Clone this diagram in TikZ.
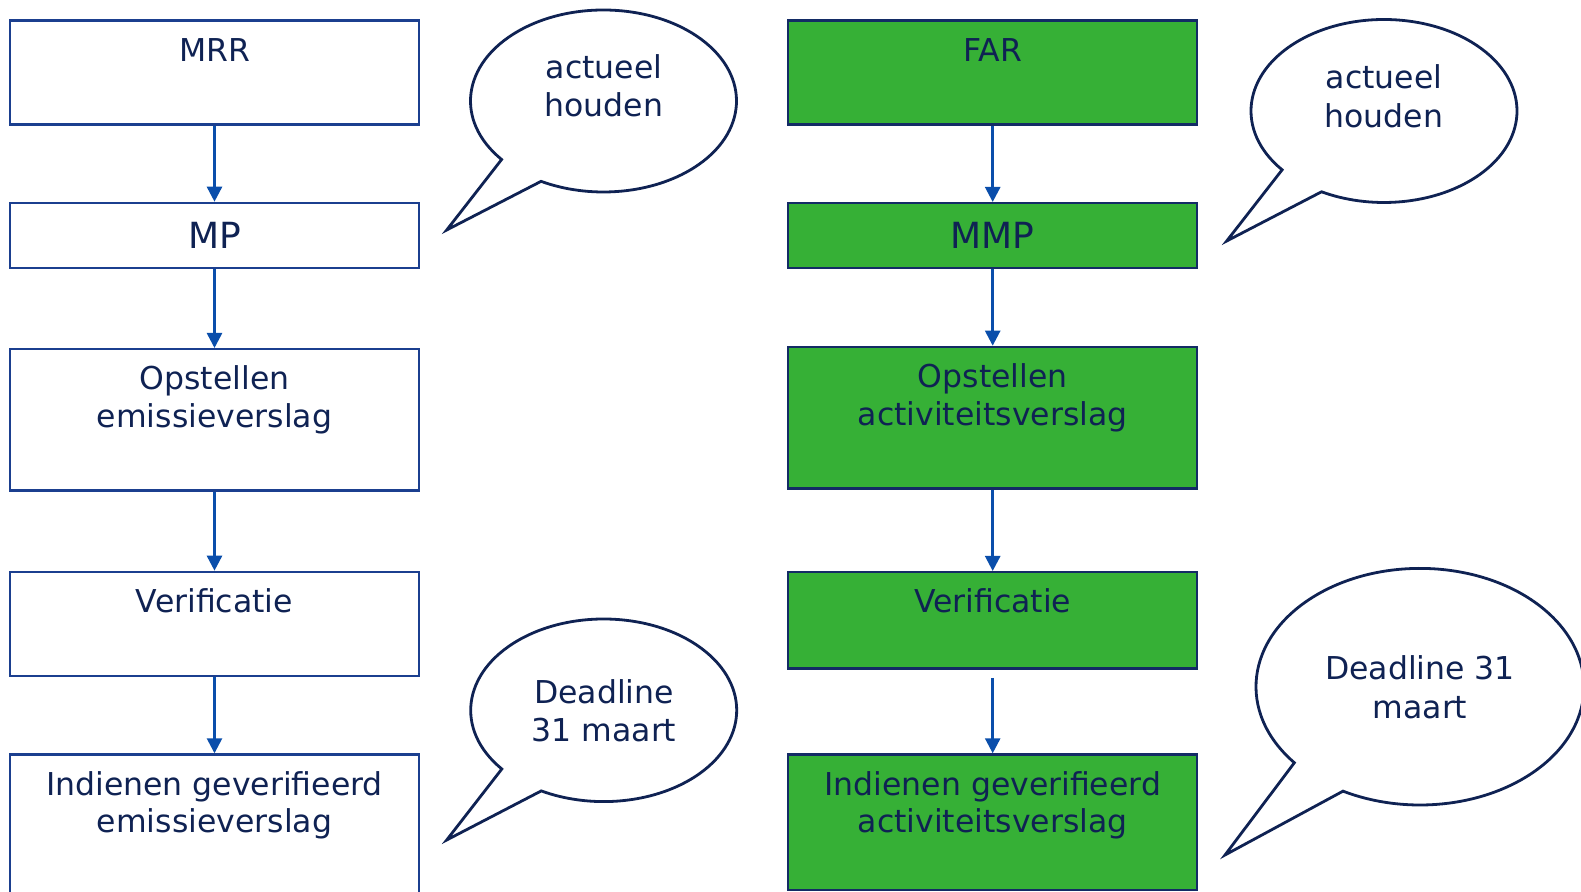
\documentclass[tikz,border=0pt]{standalone}
\usepackage{fontspec}
\setmainfont{DejaVu Sans}
\usetikzlibrary{arrows.meta,calc}
\definecolor{navy}{HTML}{0F2253}
\definecolor{boxblue}{HTML}{1B3F8F}
\definecolor{pijlblue}{HTML}{0A4EAB}
\definecolor{groen}{HTML}{36B036}
\tikzset{
	stepbox/.style={draw=boxblue, line width=1.2pt, minimum width=204.5pt, anchor=north, inner sep=0pt},
	groenbox/.style={stepbox, fill=groen, draw=navy!70!boxblue},
	boxtext/.style={anchor=base, align=center, text=navy, inner sep=0pt, font=\fontsize{15.75}{18.85}\selectfont},
	bigtext/.style={text=navy, font=\fontsize{18}{21}\selectfont},
	wolktext/.style={anchor=base, align=center, text=navy, inner sep=0pt, font=\fontsize{15.75}{19.3}\selectfont},
	wolk/.style={draw=navy, line width=1.4pt, fill=white, line join=miter},
	pijl/.style={draw=pijlblue, line width=1.3pt, -{Triangle[width=7.5pt,length=7.5pt]}}
}
\newcommand{\tekstwolk}[4]{\draw[wolk] ($(#1)+(140:#2 and #3)$) arc[start angle=140, end angle=478, x radius=#2, y radius=#3] -- (#4) -- cycle;}

\begin{document}
\begin{tikzpicture}[x=0.5pt, y=-0.5pt]
		\useasboundingbox (0,0) rectangle (1581,892);
		% MRR kolom (tekst met twee regels staat op de basislijn van de tweede regel)
		\node[stepbox, minimum height=52pt] (mrr) at (214.5,19.3) {};
		\node[boxtext] (mrr-t) at ([yshift=-21pt]mrr.north) {MRR};
		\node[stepbox, minimum height=32.5pt, bigtext] (mp) at (214.5,201.7) {MP};
		\node[stepbox, minimum height=70.7pt] (opl) at (214.5,348) {};
		\node[boxtext] (opl-t) at ([yshift=-39.85pt]opl.north) {Opstellen\\emissieverslag};
		\node[stepbox, minimum height=52pt] (verl) at (214.5,570.7) {};
		\node[boxtext] (verl-t) at ([yshift=-21pt]verl.north) {Verificatie};
		\node[stepbox, minimum height=75pt] (indl) at (214.5,753.3) {};
		\node[boxtext] (indl-t) at ([yshift=-39.85pt]indl.north) {Indienen geverifieerd\\emissieverslag};
		% FAR kolom
		\node[groenbox, minimum height=52pt] (far) at (992.7,19.3) {};
		\node[boxtext] (far-t) at ([yshift=-21pt]far.north) {FAR};
		\node[groenbox, minimum height=32.3pt, bigtext] (mmp) at (992.7,202) {MMP};
		\node[groenbox, minimum height=70.8pt] (opr) at (992.7,345.7) {};
		\node[boxtext] (opr-t) at ([yshift=-39.85pt]opr.north) {Opstellen\\activiteitsverslag};
		\node[groenbox, minimum height=48.2pt] (verr) at (992.7,571) {};
		\node[boxtext] (verr-t) at ([yshift=-21pt]verr.north) {Verificatie};
		\node[groenbox, minimum height=67.9pt] (indr) at (992.7,753.3) {};
		\node[boxtext] (indr-t) at ([yshift=-39.85pt]indr.north) {Indienen geverifieerd\\activiteitsverslag};
		\foreach \a/\b in {mrr/mp, mp/opl, opl/verl, verl/indl, far/mmp, mmp/opr, opr/verr}
		\draw[pijl] (\a.south) -- (\b.north);
		\draw[pijl, shorten <=4pt] (verr.south) -- (indr.north);
		% tekstwolken
		\coordinate (w1) at (603.5,101);
		\coordinate (w1-punt) at (446.7,230);
		\tekstwolk{w1}{133}{91}{w1-punt}
		\node[wolktext] (w1-t) at (604,116.7) {actueel\\houden};
		\coordinate (w2) at (1384,111);
		\coordinate (w2-punt) at (1226.7,241);
		\tekstwolk{w2}{133}{91.5}{w2-punt}
		\node[wolktext] (w2-t) at (1384,127.3) {actueel\\houden};
		\coordinate (w3) at (603.7,710.3);
		\coordinate (w3-punt) at (446.7,840);
		\tekstwolk{w3}{133}{91.3}{w3-punt}
		\node[wolktext] (w3-t) at (604,741.7) {Deadline\\31 maart};
		\coordinate (w4) at (1420,686.7);
		\coordinate (w4-punt) at (1225,855);
		\tekstwolk{w4}{164}{118.3}{w4-punt}
		\node[wolktext] (w4-t) at (1420,718.3) {Deadline 31\\maart};
\end{tikzpicture}
\end{document}
